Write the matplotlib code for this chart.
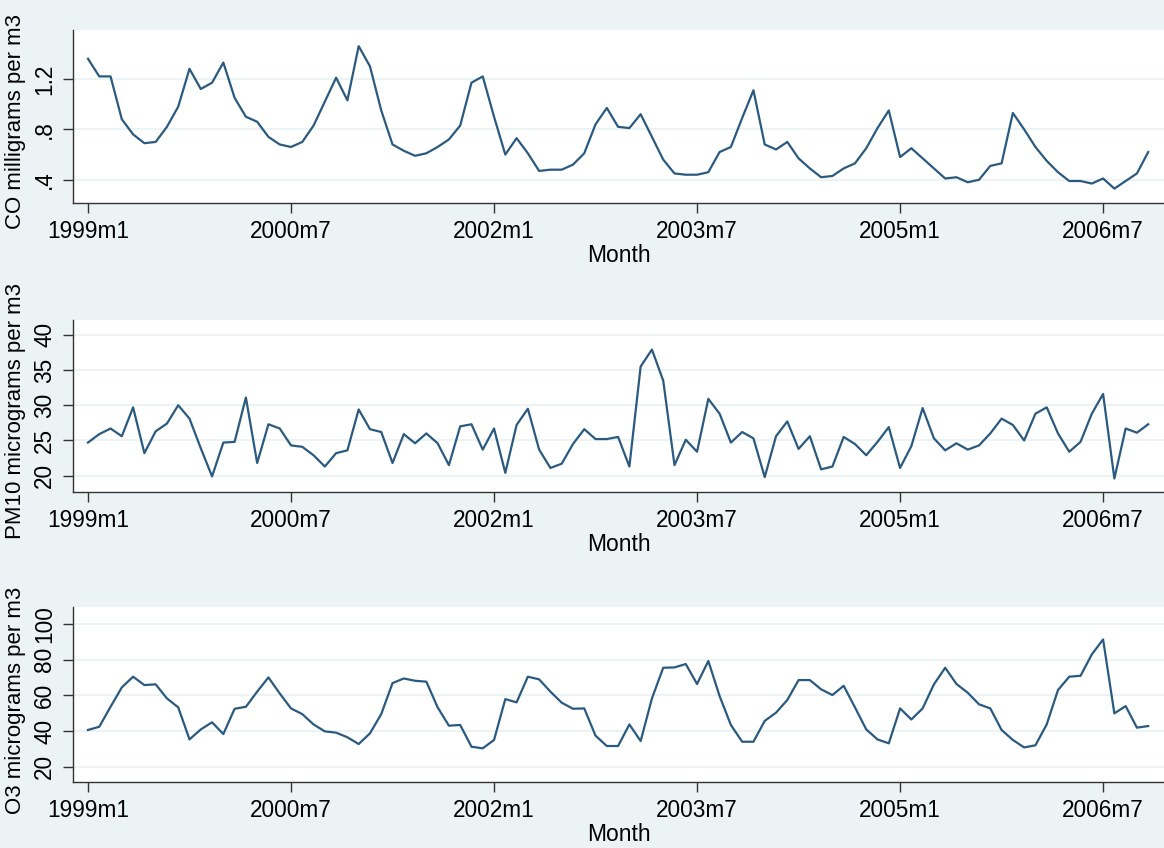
import matplotlib
matplotlib.use("Agg")
import matplotlib.pyplot as plt
import numpy as np

# monthly series, 1999m1 .. 2006m11
co = [1.36, 1.22, 1.22, 0.88, 0.76, 0.69, 0.70, 0.82, 0.98, 1.28,
      1.12, 1.17, 1.33, 1.05, 0.90, 0.86, 0.74, 0.68, 0.66, 0.70,
      0.83, 1.02, 1.21, 1.03, 1.46, 1.30, 0.95, 0.68, 0.63, 0.59,
      0.61, 0.66, 0.72, 0.83, 1.17, 1.22, 0.90, 0.60, 0.73, 0.61,
      0.47, 0.48, 0.48, 0.52, 0.61, 0.84, 0.97, 0.82, 0.81, 0.92,
      0.74, 0.56, 0.45, 0.44, 0.44, 0.46, 0.62, 0.66, 0.89, 1.11,
      0.68, 0.64, 0.70, 0.57, 0.49, 0.42, 0.43, 0.49, 0.53, 0.65,
      0.81, 0.95, 0.58, 0.65, 0.57, 0.49, 0.41, 0.42, 0.38, 0.40,
      0.51, 0.53, 0.93, 0.80, 0.66, 0.55, 0.46, 0.39, 0.39, 0.37,
      0.41, 0.33, 0.39, 0.45, 0.62]

pm10 = [24.7, 25.9, 26.7, 25.6, 29.7, 23.2, 26.3, 27.4, 30.0, 28.1,
        23.9, 19.9, 24.7, 24.8, 31.1, 21.8, 27.3, 26.7, 24.3, 24.1,
        22.9, 21.3, 23.2, 23.6, 29.4, 26.6, 26.2, 21.8, 25.9, 24.6,
        26.0, 24.6, 21.5, 27.0, 27.3, 23.7, 26.7, 20.4, 27.2, 29.5,
        23.7, 21.1, 21.7, 24.5, 26.6, 25.2, 25.2, 25.5, 21.3, 35.5,
        37.9, 33.5, 21.5, 25.1, 23.4, 30.9, 28.8, 24.7, 26.2, 25.3,
        19.8, 25.6, 27.7, 23.8, 25.6, 20.9, 21.3, 25.5, 24.5, 22.9,
        24.8, 26.9, 21.1, 24.2, 29.6, 25.3, 23.6, 24.6, 23.7, 24.3,
        26.0, 28.1, 27.2, 25.0, 28.8, 29.7, 26.0, 23.4, 24.8, 28.8,
        31.6, 19.6, 26.7, 26.1, 27.3]

o3 = [40.6, 42.4, 53.6, 64.5, 70.5, 65.8, 66.2, 58.3, 53.3, 35.3,
      40.9, 44.9, 38.3, 52.5, 53.6, 62.1, 70.1, 61.1, 52.7, 49.5,
      43.7, 39.8, 39.1, 36.5, 32.7, 38.7, 49.5, 66.9, 69.5, 68.2,
      67.7, 53.3, 43.0, 43.4, 31.2, 30.3, 35.0, 57.9, 56.1, 70.5,
      69.0, 62.1, 55.9, 52.5, 52.7, 37.4, 31.6, 31.6, 43.7, 34.4,
      58.3, 75.5, 75.7, 77.6, 66.4, 79.3, 59.6, 43.4, 34.0, 34.0,
      45.7, 50.3, 57.4, 68.6, 68.6, 63.4, 60.2, 65.4, 53.3, 40.9,
      35.3, 33.1, 52.7, 46.5, 52.7, 66.2, 75.5, 66.4, 61.5, 55.0,
      52.7, 40.6, 35.0, 30.8, 32.0, 43.7, 63.0, 70.5, 71.0, 83.0,
      91.4, 49.9, 54.0, 41.9, 42.8]

x_ticklabels = ["1999m1", "2000m7", "2002m1", "2003m7", "2005m1", "2006m7"]

co_ticks = [0.4, 0.8, 1.2]
co_ticklabels = [".4", ".8", "1.2"]
pm10_ticks = [20, 25, 30, 35, 40]
o3_ticks = [20, 40, 60, 80, 100]

BG = "#ecf3f4"
LINE = "#2a5a80"


def month_index(label):
    year, month = label.split("m")
    return (int(year) - 1999) * 12 + int(month) - 1


def main():
    plt.rcParams["font.family"] = ["Liberation Sans", "DejaVu Sans"]
    fig = plt.figure(figsize=(11.64, 8.48), dpi=100, facecolor=BG)

    panels = [
        (co, "CO milligrams per m3", co_ticks, co_ticklabels, (0.2155, 1.588), 0.7606, 0.2040),
        (pm10, "PM10 micrograms per m3", pm10_ticks, [str(t) for t in pm10_ticks], (17.65, 42.09), 0.4195, 0.2031),
        (o3, "O3 micrograms per m3", o3_ticks, [str(t) for t in o3_ticks], (11.25, 109.6), 0.0775, 0.2067),
    ]
    xticks = [month_index(s) for s in x_ticklabels]

    for values, ylabel, yticks, yticklabels, ylim, bottom, height in panels:
        ax = fig.add_axes([0.0627, bottom, 0.9373, height])
        ax.set_facecolor("white")
        x = np.arange(len(values))
        ax.plot(x, values, color=LINE, lw=1.6)
        ax.set_xlim(-1.33, 95.4)
        ax.set_ylim(*ylim)
        for s in ["top", "right"]:
            ax.spines[s].set_visible(False)
        for s in ["left", "bottom"]:
            ax.spines[s].set_color("#333333")
            ax.spines[s].set_linewidth(1.0)
        ax.set_xticks(xticks)
        ax.set_xticklabels(x_ticklabels)
        ax.set_yticks(yticks)
        ax.set_yticklabels(yticklabels, rotation=90, va="center")
        ax.tick_params(axis="both", direction="out", length=7, width=1.0,
                       color="#333333", labelsize=16.3, pad=5)
        ax.grid(axis="y", color=BG, lw=1.5)
        ax.set_axisbelow(True)
        ax.set_xlabel("Month", fontsize=16.5, labelpad=1)
        ax.set_ylabel(ylabel, fontsize=16)
        ax.yaxis.set_label_coords(-0.043, 0.47)

    fig.savefig("out.png", dpi=100, facecolor=BG)


if __name__ == "__main__":
    main()
